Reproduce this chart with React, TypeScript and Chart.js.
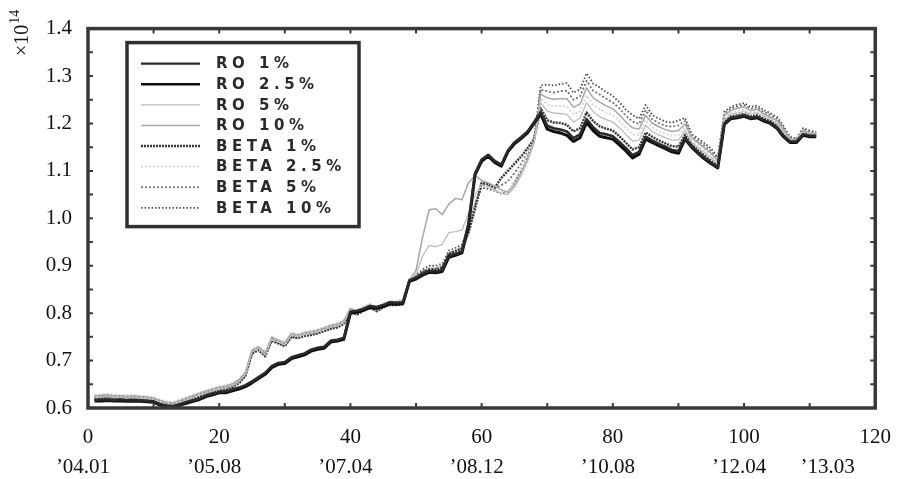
import { useEffect, useRef } from "react";
import { Chart, registerables } from "chart.js";
Chart.register(...registerables);

// ---------- DATA ----------
const months: number[] = Array.from({ length: 111 }, (_, i) => i + 1);

const seriesLabels = ["RO 1%", "RO 2.5%", "RO 5%", "RO 10%", "BETA 1%", "BETA 2.5%", "BETA 5%", "BETA 10%"];

const roOne = [
  0.617, 0.618, 0.618, 0.617, 0.618, 0.616, 0.617, 0.616, 0.615, 0.614,
  0.608, 0.605, 0.604, 0.608, 0.612, 0.616, 0.62, 0.626, 0.63, 0.634,
  0.635, 0.639, 0.643, 0.648, 0.656, 0.665, 0.674, 0.688, 0.695, 0.697,
  0.707, 0.711, 0.715, 0.723, 0.727, 0.729, 0.742, 0.744, 0.748, 0.803,
  0.805, 0.809, 0.815, 0.813, 0.817, 0.823, 0.822, 0.823, 0.869, 0.875,
  0.883, 0.889, 0.888, 0.891, 0.921, 0.925, 0.93, 0.99, 1.095, 1.124,
  1.134, 1.121, 1.113, 1.143, 1.16, 1.171, 1.183, 1.203,
  1.224, 1.195, 1.19, 1.187, 1.183, 1.169, 1.177, 1.209, 1.192, 1.18,
  1.177, 1.173, 1.161, 1.148, 1.133, 1.14, 1.172, 1.164, 1.157, 1.151,
  1.144, 1.142, 1.17, 1.152, 1.139, 1.127, 1.117, 1.108,
  1.2, 1.212, 1.214, 1.217, 1.212, 1.214, 1.207, 1.202, 1.192, 1.174, 1.162, 1.162, 1.177, 1.174, 1.174,
];

const roTwoFive = [
  0.615, 0.615, 0.616, 0.615, 0.615, 0.614, 0.615, 0.614, 0.613, 0.612,
  0.606, 0.603, 0.602, 0.606, 0.61, 0.614, 0.618, 0.624, 0.628, 0.632,
  0.632, 0.636, 0.64, 0.645, 0.653, 0.662, 0.671, 0.685, 0.692, 0.694,
  0.704, 0.708, 0.712, 0.72, 0.724, 0.726, 0.739, 0.741, 0.745, 0.8,
  0.802, 0.806, 0.812, 0.81, 0.814, 0.82, 0.819, 0.82, 0.867, 0.872,
  0.88, 0.886, 0.885, 0.888, 0.918, 0.922, 0.927, 0.984, 1.092, 1.12,
  1.131, 1.118, 1.11, 1.14, 1.157, 1.168, 1.18, 1.2, 1.22, 1.188,
  1.183, 1.18, 1.175, 1.162, 1.17, 1.202, 1.185, 1.173, 1.17, 1.167,
  1.155, 1.142, 1.127, 1.135, 1.167, 1.16, 1.153, 1.147, 1.14, 1.137,
  1.167, 1.15, 1.137, 1.125, 1.115, 1.106, 1.198, 1.21, 1.212, 1.215,
  1.21, 1.212, 1.205, 1.2, 1.19, 1.172, 1.16, 1.16, 1.175, 1.172, 1.172,
];

const roFive = [
  0.622, 0.623, 0.624, 0.622, 0.622, 0.621, 0.622, 0.62, 0.619, 0.617,
  0.612, 0.608, 0.607, 0.612, 0.617, 0.622, 0.627, 0.632, 0.636, 0.64,
  0.642, 0.647, 0.655, 0.671, 0.718, 0.725, 0.712, 0.745, 0.739, 0.733,
  0.753, 0.75, 0.755, 0.757, 0.76, 0.765, 0.77, 0.773, 0.78, 0.806,
  0.8, 0.808, 0.814, 0.807, 0.815, 0.82, 0.82, 0.822,
  0.868, 0.882, 0.92, 0.943, 0.94, 0.945, 0.97, 0.972, 0.975, 1.01, 1.05, 1.07,
  1.066, 1.06, 1.052, 1.05, 1.065, 1.09, 1.12, 1.158,
  1.244, 1.226, 1.222, 1.221, 1.219, 1.203, 1.211, 1.244, 1.225, 1.214,
  1.208, 1.203, 1.191, 1.177, 1.163, 1.165, 1.196, 1.183, 1.176, 1.17,
  1.165, 1.165, 1.185, 1.161, 1.149, 1.138, 1.128, 1.115,
  1.208, 1.22, 1.222, 1.225, 1.22, 1.222, 1.215, 1.21, 1.2, 1.182, 1.165, 1.163, 1.182, 1.178, 1.176,
];

const roTen = [
  0.626, 0.627, 0.628, 0.626, 0.626, 0.625, 0.626, 0.624, 0.623, 0.621,
  0.616, 0.612, 0.611, 0.616, 0.621, 0.626, 0.631, 0.636, 0.64, 0.644,
  0.646, 0.651, 0.659, 0.675, 0.722, 0.729, 0.716, 0.749, 0.743, 0.737,
  0.757, 0.754, 0.759, 0.761, 0.764, 0.769, 0.774, 0.777, 0.784, 0.81,
  0.804, 0.812, 0.818, 0.811, 0.819, 0.824, 0.824, 0.826,
  0.87, 0.89, 0.96, 1.018, 1.02, 1.008, 1.03, 1.042, 1.039, 1.075, 1.09, 1.08,
  1.075, 1.068, 1.06, 1.055, 1.07, 1.095, 1.125, 1.16,
  1.262, 1.254, 1.251, 1.252, 1.252, 1.234, 1.241, 1.275, 1.254, 1.245,
  1.237, 1.231, 1.218, 1.203, 1.191, 1.188, 1.217, 1.201, 1.193, 1.187,
  1.183, 1.185, 1.199, 1.17, 1.159, 1.148, 1.137, 1.121,
  1.217, 1.227, 1.232, 1.235, 1.227, 1.23, 1.22, 1.214, 1.206, 1.187, 1.168, 1.165, 1.185, 1.18, 1.178,
];

const betaOne = [
  0.619, 0.62, 0.621, 0.619, 0.619, 0.618, 0.619, 0.617, 0.616, 0.614,
  0.609, 0.605, 0.604, 0.609, 0.614, 0.619, 0.624, 0.629, 0.633, 0.637,
  0.639, 0.644, 0.652, 0.668, 0.715, 0.722, 0.709, 0.742, 0.736, 0.73,
  0.75, 0.747, 0.752, 0.754, 0.757, 0.762, 0.767, 0.77, 0.777, 0.803,
  0.797, 0.805, 0.811, 0.804, 0.812, 0.817, 0.817, 0.819,
  0.868, 0.876, 0.886, 0.892, 0.892, 0.896, 0.925, 0.93, 0.936, 0.97, 1.02, 1.075,
  1.072, 1.065, 1.085, 1.1, 1.115, 1.13, 1.148, 1.167,
  1.232, 1.207, 1.202, 1.201, 1.197, 1.183, 1.19, 1.223, 1.205, 1.194,
  1.189, 1.185, 1.173, 1.159, 1.145, 1.15, 1.181, 1.172, 1.164, 1.158,
  1.152, 1.151, 1.176, 1.156, 1.143, 1.132, 1.121, 1.11,
  1.203, 1.215, 1.217, 1.22, 1.215, 1.217, 1.21, 1.205, 1.195, 1.177, 1.163, 1.162, 1.179, 1.176, 1.175,
];

const betaTwoFive = [
  0.628, 0.629, 0.63, 0.628, 0.628, 0.627, 0.628, 0.626, 0.625, 0.623,
  0.618, 0.614, 0.613, 0.618, 0.623, 0.628, 0.633, 0.638, 0.642, 0.646,
  0.648, 0.653, 0.661, 0.677, 0.724, 0.731, 0.718, 0.751, 0.745, 0.739,
  0.759, 0.756, 0.761, 0.763, 0.766, 0.771, 0.776, 0.779, 0.786, 0.812,
  0.806, 0.814, 0.82, 0.813, 0.821, 0.826, 0.826, 0.828,
  0.87, 0.879, 0.89, 0.896, 0.896, 0.9, 0.928, 0.934, 0.94, 0.975, 1.035, 1.07,
  1.066, 1.06, 1.055, 1.058, 1.078, 1.105, 1.135, 1.168,
  1.253, 1.24, 1.236, 1.237, 1.236, 1.219, 1.226, 1.259, 1.239, 1.23,
  1.223, 1.217, 1.205, 1.19, 1.177, 1.176, 1.207, 1.192, 1.184, 1.178,
  1.174, 1.175, 1.192, 1.165, 1.154, 1.143, 1.133, 1.118,
  1.211, 1.223, 1.226, 1.229, 1.223, 1.225, 1.217, 1.212, 1.203, 1.184, 1.166, 1.164, 1.183, 1.179, 1.177,
];

const betaFive = [
  0.624, 0.625, 0.626, 0.624, 0.624, 0.623, 0.624, 0.622, 0.621, 0.619,
  0.614, 0.61, 0.609, 0.614, 0.619, 0.624, 0.629, 0.634, 0.638, 0.642,
  0.644, 0.649, 0.657, 0.673, 0.72, 0.727, 0.714, 0.747, 0.741, 0.735,
  0.755, 0.752, 0.757, 0.759, 0.762, 0.767, 0.772, 0.775, 0.782, 0.808,
  0.802, 0.81, 0.816, 0.809, 0.817, 0.822, 0.822, 0.824,
  0.869, 0.877, 0.888, 0.894, 0.894, 0.898, 0.926, 0.932, 0.938, 0.972, 1.028, 1.072,
  1.069, 1.062, 1.07, 1.078, 1.095, 1.115, 1.14, 1.166,
  1.271, 1.268, 1.265, 1.268, 1.269, 1.25, 1.257, 1.29, 1.269, 1.261,
  1.252, 1.244, 1.232, 1.216, 1.204, 1.199, 1.228, 1.209, 1.201, 1.195,
  1.193, 1.196, 1.205, 1.174, 1.163, 1.153, 1.142, 1.125,
  1.221, 1.231, 1.236, 1.239, 1.231, 1.234, 1.224, 1.218, 1.21, 1.191, 1.17, 1.166, 1.187, 1.182, 1.18,
];

const betaTen = [
  0.621, 0.622, 0.623, 0.621, 0.621, 0.62, 0.621, 0.619, 0.618, 0.616,
  0.611, 0.607, 0.606, 0.611, 0.616, 0.621, 0.626, 0.631, 0.635, 0.639,
  0.641, 0.646, 0.654, 0.67, 0.717, 0.724, 0.711, 0.744, 0.738, 0.732,
  0.752, 0.749, 0.754, 0.756, 0.759, 0.764, 0.769, 0.772, 0.779, 0.805,
  0.799, 0.807, 0.813, 0.806, 0.814, 0.819, 0.819, 0.821,
  0.872, 0.88, 0.892, 0.9, 0.9, 0.904, 0.932, 0.937, 0.945, 0.98, 1.03, 1.065,
  1.062, 1.058, 1.052, 1.055, 1.075, 1.1, 1.13, 1.165,
  1.28, 1.282, 1.28, 1.283, 1.285, 1.265, 1.272, 1.306, 1.284, 1.276,
  1.266, 1.258, 1.245, 1.229, 1.218, 1.21, 1.239, 1.218, 1.21, 1.204,
  1.202, 1.206, 1.212, 1.178, 1.168, 1.158, 1.147, 1.128,
  1.225, 1.235, 1.24, 1.243, 1.235, 1.238, 1.228, 1.222, 1.214, 1.195, 1.172, 1.168, 1.19, 1.185, 1.182,
];

const seriesValues = [roOne, roTwoFive, roFive, roTen, betaOne, betaTwoFive, betaFive, betaTen];

const dateLabels = ["\u201904.01", "\u201905.08", "\u201907.04", "\u201908.12", "\u201910.08", "\u201912.04", "\u201913.03"];
const dateLabelPositions = [0, 20, 40, 60, 80, 100, 113.5];

// ---------- STYLES ----------
const seriesStyles = [
  { color: "#2a2a2a", width: 2.6, dash: [] as number[] },
  { color: "#0e0e0e", width: 3, dash: [] as number[] },
  { color: "#bdbdbd", width: 1.3, dash: [] as number[] },
  { color: "#a8a8a8", width: 1.5, dash: [] as number[] },
  { color: "#383838", width: 2.4, dash: [2, 1] },
  { color: "#d5d5d5", width: 1.8, dash: [2, 2] },
  { color: "#727272", width: 1.8, dash: [2, 2] },
  { color: "#4e4e4e", width: 1.8, dash: [1.5, 2] },
];

const SERIF = "'Liberation Serif', 'DejaVu Serif', serif";

const decorPlugin = {
  id: "decor",
  afterDatasetsDraw(chart: any) {
    const { ctx, chartArea: a, scales } = chart;
    const xs = scales.x;
    const ys = scales.y;
    ctx.save();
    // inward ticks on all four sides
    ctx.strokeStyle = "#3a3a3a";
    ctx.lineWidth = 2;
    const len = 5;
    xs.ticks.forEach((t: any) => {
      const px = xs.getPixelForValue(t.value);
      ctx.beginPath();
      ctx.moveTo(px, a.bottom);
      ctx.lineTo(px, a.bottom - len);
      ctx.moveTo(px, a.top);
      ctx.lineTo(px, a.top + len);
      ctx.stroke();
    });
    ys.ticks.forEach((t: any) => {
      const py = ys.getPixelForValue(t.value);
      ctx.beginPath();
      ctx.moveTo(a.left, py);
      ctx.lineTo(a.left + len, py);
      ctx.moveTo(a.right, py);
      ctx.lineTo(a.right - len, py);
      ctx.stroke();
    });
    // frame
    ctx.strokeStyle = "#383838";
    ctx.lineWidth = 3.5;
    ctx.strokeRect(a.left, a.top, a.right - a.left, a.bottom - a.top);

    // legend
    const lx = a.left + 39;
    const ly = a.top + 14;
    const lw = 232;
    const lh = 184;
    ctx.fillStyle = "#ffffff";
    ctx.fillRect(lx, ly, lw, lh);
    ctx.strokeStyle = "#303030";
    ctx.lineWidth = 3.5;
    ctx.strokeRect(lx, ly, lw, lh);
    chart.data.datasets.forEach((ds: any, i: number) => {
      const y = ly + 21 + i * 20.6;
      ctx.save();
      ctx.strokeStyle = ds.borderColor;
      ctx.lineWidth = Math.min(ds.borderWidth, 2.4);
      ctx.setLineDash(ds.borderDash || []);
      ctx.beginPath();
      ctx.moveTo(lx + 14, y);
      ctx.lineTo(lx + 73, y);
      ctx.stroke();
      ctx.restore();
      ctx.fillStyle = "#2a2a2a";
      ctx.font = "bold 15px 'DejaVu Sans', sans-serif";
      (ctx as any).letterSpacing = "4.5px";
      ctx.textAlign = "left";
      ctx.textBaseline = "middle";
      ctx.fillText(ds.label, lx + 89, y + 1);
    });
    (ctx as any).letterSpacing = "0px";

    // second row of x labels (dates)
    ctx.fillStyle = "#111111";
    ctx.font = `21px ${SERIF}`;
    ctx.textAlign = "center";
    ctx.textBaseline = "middle";
    dateLabels.forEach((lab, i) => {
      ctx.fillText(lab, xs.getPixelForValue(dateLabelPositions[i]) - 5, 467);
    });

    // y axis multiplier x10^14 (rotated)
    ctx.save();
    ctx.translate(28, 56);
    ctx.rotate(-Math.PI / 2);
    ctx.textAlign = "left";
    ctx.textBaseline = "alphabetic";
    ctx.font = `20px ${SERIF}`;
    ctx.fillText("\u00d710", 0, 0);
    const w = ctx.measureText("\u00d710").width;
    ctx.font = `14px ${SERIF}`;
    ctx.fillText("14", w + 1, -9);
    ctx.restore();

    ctx.restore();
  },
};

export default function App() {
  const ref = useRef<HTMLCanvasElement | null>(null);
  useEffect(() => {
    if (!ref.current) return;
    const chart = new Chart(ref.current, {
      type: "line",
      data: {
        datasets: seriesLabels.map((label, i) => ({
          label,
          data: months.map((m, j) => ({ x: m, y: seriesValues[i][j] })),
          borderColor: seriesStyles[i].color,
          borderWidth: seriesStyles[i].width,
          borderDash: seriesStyles[i].dash,
          pointRadius: 0,
          tension: 0,
          fill: false,
          borderJoinStyle: "round" as const,
        })),
      },
      options: {
        animation: false,
        responsive: false,
        devicePixelRatio: 1,
        layout: { padding: { top: 15, right: 22, left: 0, bottom: 0 } },
        plugins: { legend: { display: false }, tooltip: { enabled: false } },
        scales: {
          x: {
            type: "linear",
            min: 0,
            max: 120,
            grid: { display: false, drawTicks: false },
            border: { display: false },
            ticks: {
              stepSize: 10,
              autoSkip: false,
              maxRotation: 0,
              padding: 17,
              color: "#111111",
              font: { family: SERIF, size: 21 },
              callback: (v: any) => (Math.round(Number(v)) % 20 === 0 ? String(Math.round(Number(v))) : ""),
            },
            afterFit: (s: any) => {
              s.height = 71;
            },
          },
          y: {
            type: "linear",
            min: 0.6,
            max: 1.4,
            grid: { display: false, drawTicks: false },
            border: { display: false },
            ticks: {
              stepSize: 0.05,
              autoSkip: false,
              padding: 16,
              color: "#111111",
              font: { family: SERIF, size: 21 },
              callback: (v: any) => {
                const n = Number(v);
                return Math.abs(n * 10 - Math.round(n * 10)) < 1e-6 ? n.toFixed(1) : "";
              },
            },
            afterFit: (s: any) => {
              s.width = 88;
            },
          },
        },
      },
      plugins: [decorPlugin],
    });
    return () => chart.destroy();
  }, []);
  return (
    <div style={{ position: "fixed", left: 0, top: 0, width: 908, height: 479 }}>
      <canvas ref={ref} width={908} height={479} style={{ display: "block", width: 908, height: 479 }} />
    </div>
  );
}
